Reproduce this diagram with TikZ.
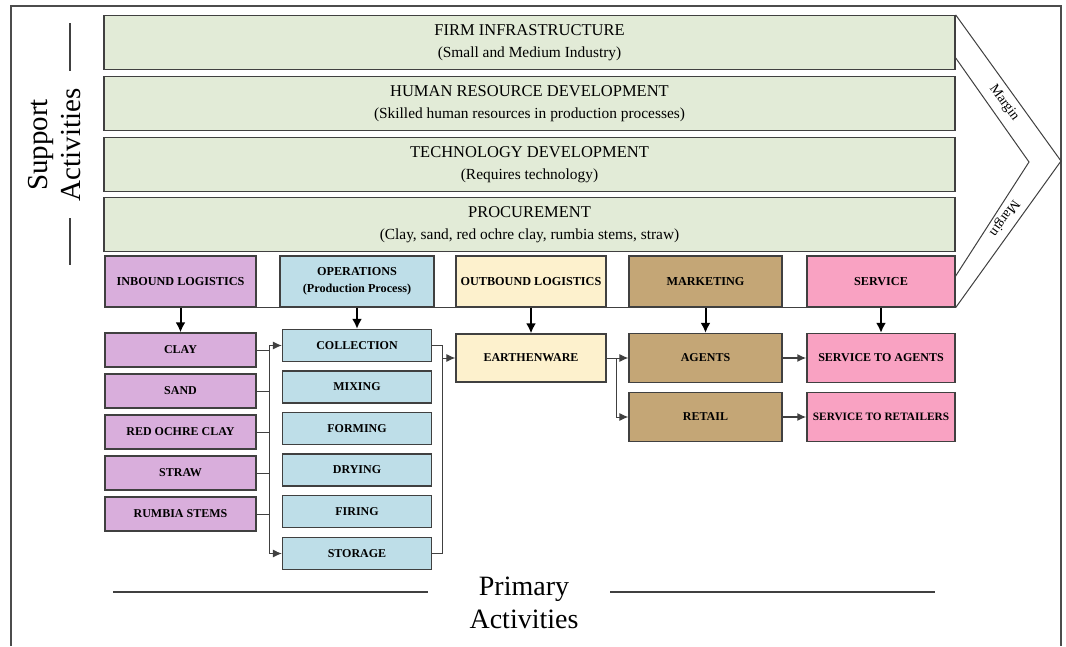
\documentclass[tikz,border=0pt]{standalone}
\usepackage{fontspec}
\setmainfont{Liberation Serif}
\usetikzlibrary{arrows.meta}

\definecolor{supgreen}{RGB}{226,235,215}
\definecolor{inpurple}{RGB}{217,174,220}
\definecolor{opblue}{RGB}{190,222,232}
\definecolor{outyellow}{RGB}{253,241,205}
\definecolor{mktbrown}{RGB}{196,166,118}
\definecolor{svcpink}{RGB}{249,162,194}
\definecolor{edge}{RGB}{64,64,64}

\tikzset{
  supbox/.style={draw=edge, line width=1.3pt, fill=supgreen, minimum width=851pt,
    minimum height=54pt, inner sep=0pt, align=center, font=\fontsize{15.4}{22}\selectfont},
  headbox/.style={draw=edge, line width=1.3pt, minimum width=151pt, minimum height=51pt,
    inner sep=0pt, align=center, font=\fontsize{12.2}{17}\selectfont\bfseries},
  itembox/.style={draw=edge, line width=1.3pt, minimum width=151pt, minimum height=34pt,
    inner sep=0pt, font=\fontsize{12}{14}\selectfont\bfseries},
  flow/.style={line width=1pt, draw=edge},
  down/.style={line width=2pt, draw=black, -{Latex[length=10pt,width=10pt]}},
}

\begin{document}
\begin{tikzpicture}[x=1pt, y=-1pt, >={Latex[length=9pt,width=8pt]}]
            \fill[white] (0,0) rectangle (1066,646);
            \useasboundingbox (0,0) rectangle (1066,646);

            % Khung ngoai (mo o duoi)
            \draw[line width=1.3pt, black!70] (11,646) -- (11,6) -- (1061,6) -- (1061,646);

            % Hoat dong ho tro
            \node[supbox] (firm) at (529.5,42.5) {{\fontsize{16.5}{22}\selectfont FIRM INFRASTRUCTURE}\\(Small and Medium Industry)};
            \node[supbox] (hrd) at (529.5,103.5) {{\fontsize{16.5}{22}\selectfont HUMAN RESOURCE DEVELOPMENT}\\(Skilled human resources in production processes)};
            \node[supbox] (tech) at (529.5,164.5) {{\fontsize{16.5}{22}\selectfont TECHNOLOGY DEVELOPMENT}\\(Requires technology)};
            \node[supbox] (proc) at (529.5,224.5) {{\fontsize{16.5}{22}\selectfont PROCUREMENT}\\(Clay, sand, red ochre clay, rumbia stems, straw)};

            % Hang dau hoat dong chinh
            \node[headbox, fill=inpurple] (inb) at (180.5,281.5) {INBOUND LOGISTICS};
            \node[headbox, fill=opblue, minimum width=154pt] (ops) at (357,281.5) {OPERATIONS\\(Production Process)};
            \node[headbox, fill=outyellow, minimum width=150pt] (outb) at (531,281.5) {OUTBOUND LOGISTICS};
            \node[headbox, fill=mktbrown, minimum width=153pt] (mkt) at (705.5,281.5) {MARKETING};
            \node[headbox, fill=svcpink, minimum width=148pt] (svc) at (881,281.5) {SERVICE};
            \draw[line width=1.3pt, edge] (inb.south west) -- (svc.south east);

            % Mui ten Margin
            \coordinate (tipO) at (1061,161);
            \coordinate (tipI) at (1029,162);
            \coordinate (inTop) at (955,57);
            \coordinate (inBot) at (955,277);
            \draw[line width=1pt, edge] (firm.north east) -- (tipO) -- (svc.south east);
            \draw[line width=1pt, edge] (inTop) -- (tipI) -- (inBot);
            \node[rotate=-54, font=\fontsize{14}{16}\selectfont] (mtop) at (1004,103) {Margin};
            \node[rotate=-126, font=\fontsize{14}{16}\selectfont] (mbot) at (1004,218) {Margin};

            % Nguyen lieu dau vao
            \node[itembox, fill=inpurple] (clay) at (180.5,350) {CLAY};
            \node[itembox, fill=inpurple] (sand) at (180.5,391) {SAND};
            \node[itembox, fill=inpurple] (ochre) at (180.5,432) {RED OCHRE CLAY};
            \node[itembox, fill=inpurple] (straw) at (180.5,473) {STRAW};
            \node[itembox, fill=inpurple] (rumbia) at (180.5,514) {RUMBIA STEMS};

            % Quy trinh san xuat
            \node[itembox, fill=opblue, minimum width=149pt, minimum height=32pt] (coll) at (357,345.5) {COLLECTION};
            \node[itembox, fill=opblue, minimum width=149pt, minimum height=32pt] (mix) at (357,387) {MIXING};
            \node[itembox, fill=opblue, minimum width=149pt, minimum height=32pt] (form) at (357,428.5) {FORMING};
            \node[itembox, fill=opblue, minimum width=149pt, minimum height=32pt] (dry) at (357,470) {DRYING};
            \node[itembox, fill=opblue, minimum width=149pt, minimum height=32pt] (fire) at (357,511.5) {FIRING};
            \node[itembox, fill=opblue, minimum width=149pt, minimum height=32pt] (stor) at (357,553.5) {STORAGE};

            % San pham, tiep thi, dich vu
            \node[itembox, fill=outyellow, minimum width=150pt, minimum height=48pt] (earth) at (531,358) {EARTHENWARE};
            \node[itembox, fill=mktbrown, minimum width=153pt, minimum height=49pt] (agents) at (705.5,358) {AGENTS};
            \node[itembox, fill=mktbrown, minimum width=153pt, minimum height=49pt] (retail) at (705.5,417) {RETAIL};
            \node[itembox, fill=svcpink, minimum width=148pt, minimum height=49pt] (s2a) at (881,358) {SERVICE TO AGENTS};
            \node[itembox, fill=svcpink, minimum width=148pt, minimum height=49pt, font=\fontsize{11.3}{14}\selectfont\bfseries] (s2r) at (881,417) {SERVICE TO RETAILERS};

            % Mui ten xuong
            \draw[down] (inb.south) -- (clay.north);
            \draw[down] (ops.south) -- (coll.north);
            \draw[down] (outb.south) -- (earth.north);
            \draw[down] (mkt.south) -- (agents.north);
            \draw[down] (svc.south) -- (s2a.north);

            % Duong noi
            \coordinate (busL) at (269,0);
            \coordinate (busR) at (442,0);
            \coordinate (busM) at (616,0);
            \draw[flow] (clay.east) -- (clay.east -| busL);
            \draw[flow] (sand.east) -- (sand.east -| busL);
            \draw[flow] (ochre.east) -- (ochre.east -| busL);
            \draw[flow] (straw.east) -- (straw.east -| busL);
            \draw[flow] (rumbia.east) -- (rumbia.east -| busL);
            \draw[flow] (coll.west -| busL) -- (stor.west -| busL);
            \draw[flow, ->] (coll.west -| busL) -- (coll.west);
            \draw[flow, ->] (stor.west -| busL) -- (stor.west);
            \draw[flow] (coll.east) -- (coll.east -| busR) -- (stor.east -| busR) -- (stor.east);
            \draw[flow, ->] (earth.west -| busR) -- (earth.west);
            \draw[flow, ->] (earth.east) -- (agents.west);
            \draw[flow, ->] (earth.east -| busM) |- (retail.west);
            \draw[flow, line width=1.6pt, ->] (agents.east) -- (s2a.west);
            \draw[flow, line width=1.6pt, ->] (retail.east) -- (s2r.west);

            % Ghi nhan
            \node[rotate=90, align=center, font=\fontsize{29}{33}\selectfont] (supp) at (55,145) {Support\\Activities};
            \draw[line width=1.3pt, edge] (70,23) -- (70,71);
            \draw[line width=1.3pt, edge] (70,218) -- (70,265);
            \node[align=center, font=\fontsize{28}{33}\selectfont] (prim) at (524,603) {Primary\\Activities};
            \draw[line width=1.3pt, edge] (113,592) -- (428,592);
            \draw[line width=1.3pt, edge] (610,592) -- (935,592);
        \end{tikzpicture}
\end{document}
